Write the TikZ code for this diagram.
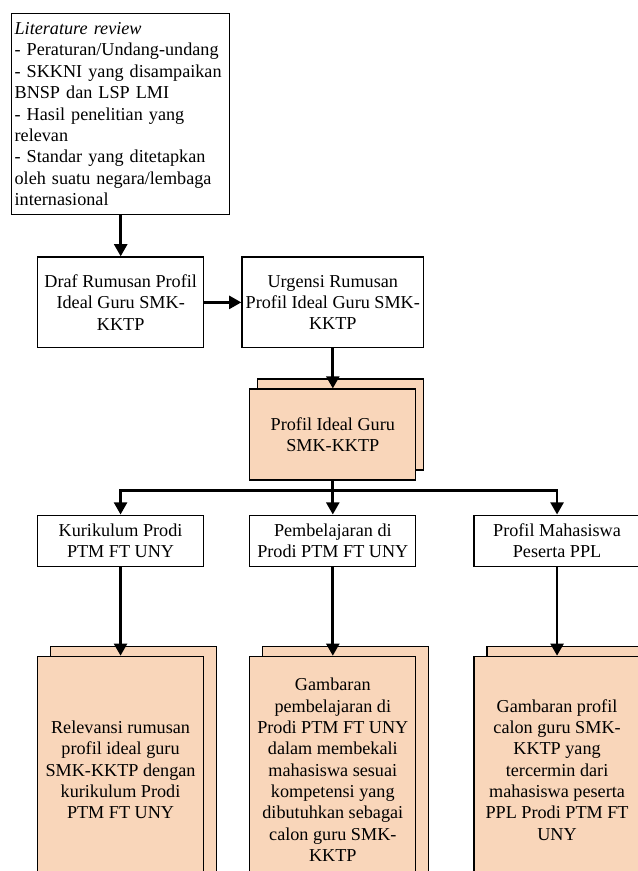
\documentclass[tikz,border=0pt]{standalone}
\usepackage{fontspec}
\setmainfont{Liberation Serif}
\usetikzlibrary{arrows.meta,positioning,shadows}
\definecolor{peach}{RGB}{249,214,186}

\begin{document}
\begin{tikzpicture}[x=0.66pt, y=-0.66pt, ->, >={Triangle[length=8pt, width=8.5pt]}, line width=1.8pt,
  font=\fontsize{12pt}{14.1pt}\selectfont,
  box/.style = {draw, line width=0.8pt, align=center, minimum width=109.6pt, inner sep=1pt},
  stack/.style = {box, fill=peach, copy shadow={shadow xshift=#1, shadow yshift=6.6pt, fill=peach, draw, line width=0.8pt}}]
  \useasboundingbox (0,0) rectangle (638,871);
  \clip (0,0) rectangle (638,871);

  % Nodes
  \node[box, align=left, text width=140pt, minimum height=132.7pt, inner sep=2pt, anchor=north west] (lit) at (11,13)
    {\textit{Literature review}\\- Peraturan/Undang-undang\\- SKKNI yang disampaikan\\BNSP dan LSP LMI\\- Hasil penelitian yang\\relevan\\- Standar yang ditetapkan\\oleh suatu negara/lembaga\\internasional};
  \node[box, minimum height=60pt] (draf) [below=27.1pt of lit] {Draf Rumusan Profil\\Ideal Guru SMK-\\KKTP};
  \node[box, minimum width=120pt, minimum height=60pt] (urg) [right=24.4pt of draf] {Urgensi Rumusan\\Profil Ideal Guru SMK-\\KKTP};
  \node[stack=5.3pt, minimum height=60pt] (ideal) [below=26.4pt of urg] {Profil Ideal Guru\\SMK-KKTP};

  \node[box, minimum height=33.7pt] (pem) [below=22.4pt of ideal] {Pembelajaran di\\Prodi PTM FT UNY};
  \node[box, minimum height=33.7pt] (kur) [left=29.7pt of pem] {Kurikulum Prodi\\PTM FT UNY};
  \node[box, minimum height=33.7pt] (mhs) [right=37.6pt of pem] {Profil Mahasiswa\\Peserta PPL};

  \node[stack=8.6pt, minimum height=149.8pt] (rel) [below=58.7pt of kur] {Relevansi rumusan\\profil ideal guru\\SMK-KKTP dengan\\kurikulum Prodi\\PTM FT UNY};
  \node[stack=8.6pt, minimum height=149.8pt] (gam) [below=58.7pt of pem] {Gambaran\\pembelajaran di\\Prodi PTM FT UNY\\dalam membekali\\mahasiswa sesuai\\kompetensi yang\\dibutuhkan sebagai\\calon guru SMK-\\KKTP};
  \node[stack=8.6pt, minimum height=149.8pt] (cal) [below=58.7pt of mhs] {Gambaran profil\\calon guru SMK-\\KKTP yang\\tercermin dari\\mahasiswa peserta\\PPL Prodi PTM FT\\UNY};

  % Paths
  \path (lit) edge (draf)
        (draf) edge (urg)
        (urg) edge (ideal)
        (ideal) edge (pem)
        (kur) edge (rel)
        (pem) edge (gam)
        (mhs) edge (cal);
  \draw (ideal.south) -- ++(0,10) -| (kur);
  \draw (ideal.south) -- ++(0,10) -| (mhs);
\end{tikzpicture}
\end{document}
